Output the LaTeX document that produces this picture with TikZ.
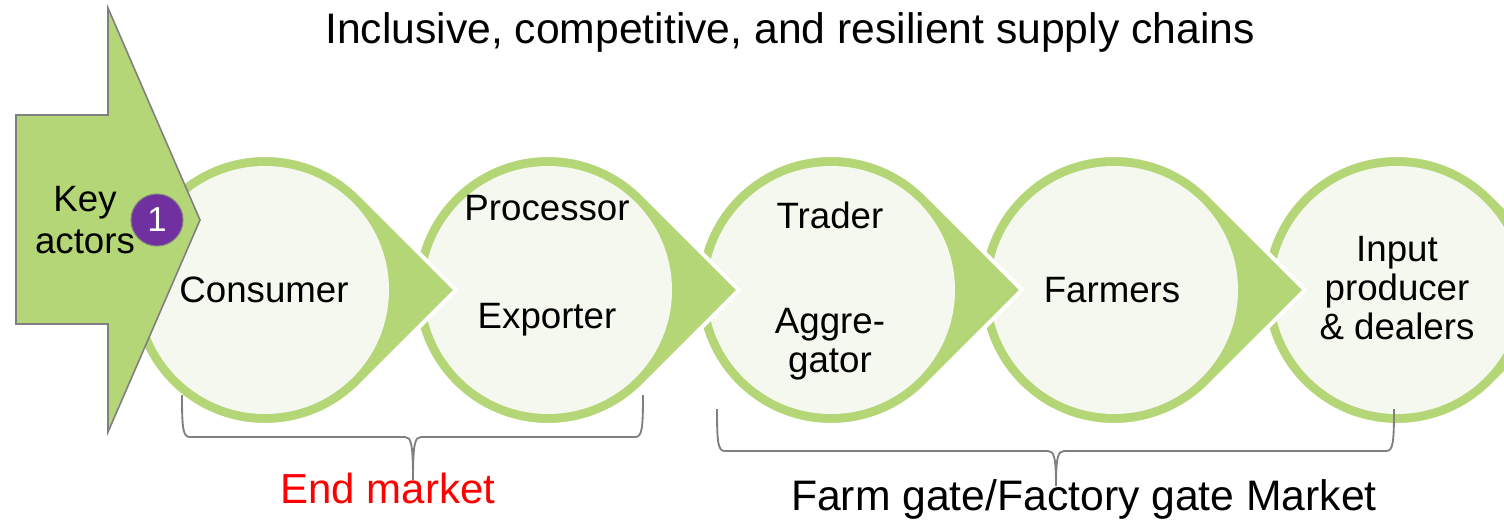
\documentclass[tikz,border=0pt]{standalone}
\usepackage{fontspec}
\setmainfont{Liberation Sans}
\usetikzlibrary{positioning}
\definecolor{leaf}{HTML}{B5D676}
\definecolor{pale}{HTML}{F4F8EE}
\definecolor{grape}{HTML}{7030A0}
\definecolor{rim}{HTML}{808080}
\tikzset{
x=0.75pt, y=-0.75pt, % one unit is one pixel of the frame
node distance=212.25pt, % centre to centre of two actors (283 px)
drop/.style={fill=leaf, draw=white, line width=3pt, miter limit=10}, % circle with a tip to the right
core/.style={circle, fill=pale, minimum size=186pt, inner sep=0pt}, % the pale inner disc
lbl/.style={font=\fontsize{27.5}{29}\selectfont, align=center, inner sep=0pt, anchor=base}, % base = last line
keyarrow/.style={fill=leaf, draw=rim, line width=1.2pt},
badge/.style={circle, fill=grape, draw=rim, line width=0.8pt, minimum size=39pt, inner sep=0pt, text=white, font=\fontsize{26}{28}\selectfont},
brc/.style={draw=rim, line width=1.4pt},
}
\newcommand{\brc}[6]{% x left, x right, y top, y bar, x middle, y tip
  \draw[brc] (#1,#3) .. controls (#1,#4-8) and (#1+1,#4) .. (#1+8,#4) -- (#5-8,#4)
    .. controls (#5-2,#4) and (#5,#4+6) .. (#5,#6)
    .. controls (#5,#4+6) and (#5+2,#4) .. (#5+8,#4) -- (#2-8,#4)
    .. controls (#2-1,#4) and (#2,#4-8) .. (#2,#3);}

\begin{document}
\begin{tikzpicture}
\useasboundingbox (0,0) rectangle (1504,519);
\coordinate (c1) at (265,290);
\coordinate[right of=c1] (c2);
\coordinate[right of=c2] (c3);
\coordinate[right of=c3] (c4);
\coordinate[right of=c4] (c5);
% right to left, so each tip lies over the next circle
\foreach \c in {c5,c4,c3,c2,c1} {
  \draw[drop] (\c) ++(45:135) arc[start angle=45, end angle=315, radius=135] -- ++(95.46,95.46) -- cycle;
  \node[core] (\c-disc) at (\c) {};
}
\node[lbl] (consumer) at (264,302) {Consumer};
\node[lbl] (processor) at (547,220) {Processor};
\node[lbl] (exporter) at (547,328) {Exporter};
\node[lbl] (trader) at (830,228) {Trader};
\node[lbl] (aggregator) at (830,372) {Aggre-\\gator};
\node[lbl] (farmers) at (1112,302) {Farmers};
\node[lbl] (input) at (1397,339) {Input\\producer\\\& dealers};

\draw[keyarrow] (16,115) -- (108,115) -- (108,8) -- (200,220) -- (108,432) -- (108,324) -- (16,324) -- cycle;
\node[lbl, font=\fontsize{27.5}{31}\selectfont] (key) at (85,253) {Key\\actors};
\node[badge] (one) at (157,220) {1};

\node[font=\fontsize{32}{38}\selectfont, anchor=base, inner sep=0pt] (title) at (790,43) {Inclusive, competitive, and resilient supply chains};

\brc{182}{643}{395}{437}{413}{480}
\brc{717}{1394}{409}{451}{1056}{486}
\node[font=\fontsize{31.5}{36}\selectfont, text=red, anchor=base, inner sep=0pt] (endmarket) at (388,503) {End market};
\node[font=\fontsize{32}{36}\selectfont, anchor=base, inner sep=0pt] (farmgate) at (1084,510) {Farm gate/Factory gate Market};
\end{tikzpicture}
\end{document}
